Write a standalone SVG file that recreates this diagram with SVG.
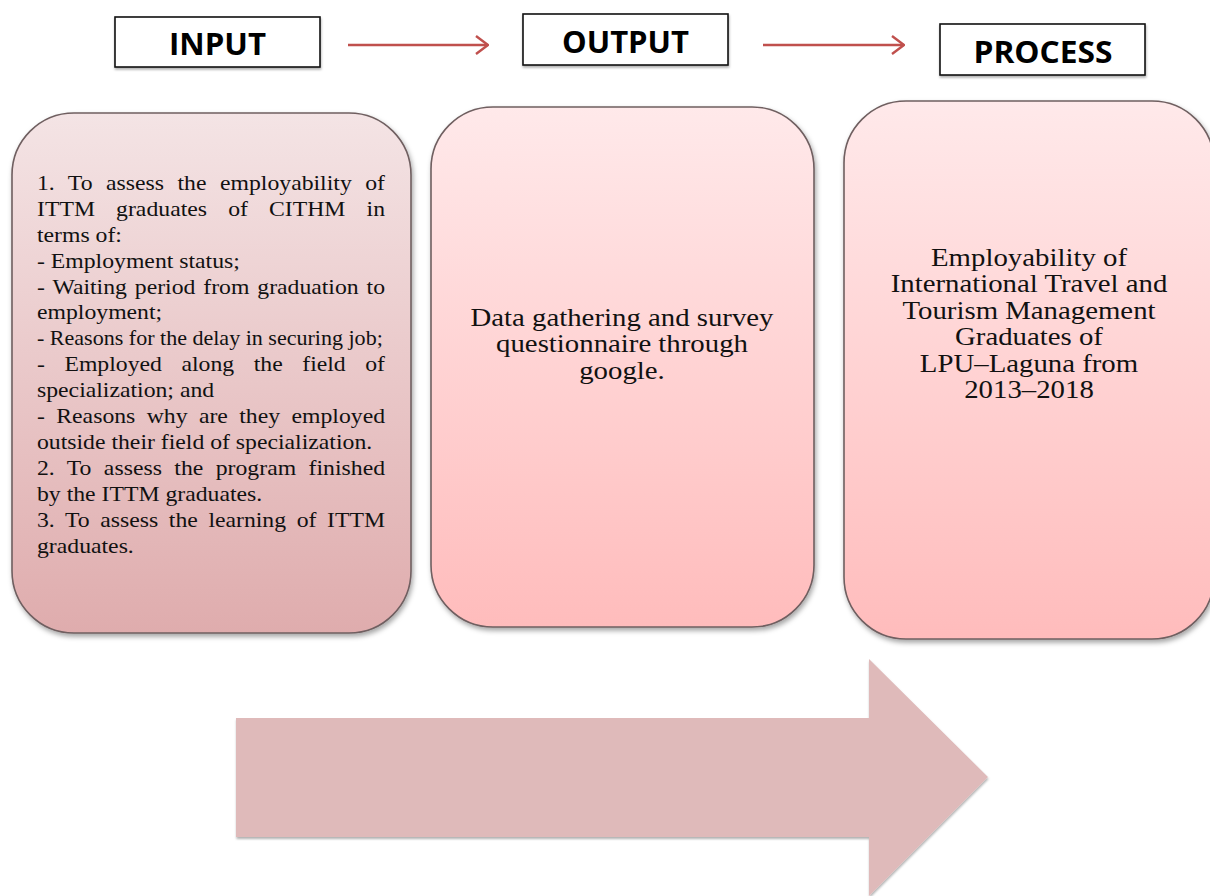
<svg xmlns="http://www.w3.org/2000/svg" width="1210" height="896" viewBox="0 0 1210 896">
  <style>
    .label { font-family: "Open Sans", "Liberation Sans", sans-serif; font-weight: 700; font-size: 31px; fill: #000; }
    .hdr { fill: #fff; stroke: #111; stroke-width: 1.6; }
    .card { stroke: #6f5f60; stroke-width: 1.6; }
    .body { font-family: "Liberation Serif", "Times New Roman", serif; fill: #111; }
    .small { font-size: 21px; }
    .big { font-size: 25.5px; }
    .link { fill: none; stroke: #c0504d; stroke-width: 2.4; }
  </style>
  <defs>
    <linearGradient id="gInput" x1="0" y1="0" x2="0" y2="1">
      <stop offset="0" stop-color="#f4e4e5"/>
      <stop offset="1" stop-color="#dfacad"/>
    </linearGradient>
    <linearGradient id="gPink" x1="0" y1="0" x2="0" y2="1">
      <stop offset="0" stop-color="#ffe9ea"/>
      <stop offset="1" stop-color="#ffbcbc"/>
    </linearGradient>
    <filter id="shadow" x="-10%" y="-10%" width="120%" height="120%">
      <feDropShadow dx="1.5" dy="3" stdDeviation="2.5" flood-color="#000" flood-opacity="0.35"/>
    </filter>
    <filter id="shadowSoft" x="-10%" y="-10%" width="120%" height="130%">
      <feDropShadow dx="0.5" dy="2" stdDeviation="1.2" flood-color="#000" flood-opacity="0.3"/>
    </filter>
    <marker id="chev" viewBox="0 0 14 20" refX="13" refY="10" markerWidth="14" markerHeight="20" markerUnits="userSpaceOnUse" orient="auto">
      <path d="M1,1 L13,10 L1,19" fill="none" stroke="#c0504d" stroke-width="2.4"/>
    </marker>
  </defs>

  <!-- heading boxes -->
  <g id="input-label">
    <rect class="hdr" x="115" y="17" width="205" height="50" filter="url(#shadowSoft)"/>
    <text class="label" x="217.5" y="55" text-anchor="middle" textLength="97" lengthAdjust="spacingAndGlyphs">INPUT</text>
  </g>
  <g id="output-label">
    <rect class="hdr" x="523" y="14" width="205" height="51" filter="url(#shadowSoft)"/>
    <text class="label" x="625.5" y="53" text-anchor="middle" textLength="127" lengthAdjust="spacingAndGlyphs">OUTPUT</text>
  </g>
  <g id="process-label">
    <rect class="hdr" x="940" y="24" width="205" height="51" filter="url(#shadowSoft)"/>
    <text class="label" x="1043" y="63" text-anchor="middle" textLength="139" lengthAdjust="spacingAndGlyphs">PROCESS</text>
  </g>

  <!-- connectors between heading boxes -->
  <g id="connectors">
    <line class="link" x1="348" y1="45" x2="488" y2="45" marker-end="url(#chev)"/>
    <line class="link" x1="763" y1="45" x2="904" y2="45" marker-end="url(#chev)"/>
  </g>

  <!-- objectives card; justified lines widen the word gaps, textLength trims the rest -->
  <g id="input-card">
    <rect class="card" x="12" y="113" width="399" height="520" rx="62" ry="62" fill="url(#gInput)" filter="url(#shadow)"/>
    <g class="body small" transform="translate(37,0) scale(1.13,1)">
      <text x="0" y="190" word-spacing="6.7" textLength="308" lengthAdjust="spacing">1. To assess the employability of</text>
      <text x="0" y="215.9" word-spacing="13.43" textLength="308" lengthAdjust="spacing">ITTM graduates of CITHM in</text>
      <text x="0" y="241.8">terms of:</text>
      <text x="0" y="267.7">- Employment status;</text>
      <text x="0" y="293.6" word-spacing="1.84" textLength="308" lengthAdjust="spacing">- Waiting period from graduation to</text>
      <text x="0" y="319.5">employment;</text>
      <text x="0" y="345.4" textLength="306" lengthAdjust="spacingAndGlyphs">- Reasons for the delay in securing job;</text>
      <text x="0" y="371.3" word-spacing="12.02" textLength="308" lengthAdjust="spacing">- Employed along the field of</text>
      <text x="0" y="397.2">specialization; and</text>
      <text x="0" y="423.1" word-spacing="4.8" textLength="308" lengthAdjust="spacing">- Reasons why are they employed</text>
      <text x="0" y="449">outside their field of specialization.</text>
      <text x="0" y="474.9" word-spacing="5.7" textLength="308" lengthAdjust="spacing">2. To assess the program finished</text>
      <text x="0" y="500.8">by the ITTM graduates.</text>
      <text x="0" y="526.7" word-spacing="4.2" textLength="308" lengthAdjust="spacing">3. To assess the learning of ITTM</text>
      <text x="0" y="552.6">graduates.</text>
    </g>
  </g>

  <!-- method card -->
  <g id="output-card">
    <rect class="card" x="431" y="107" width="383" height="520" rx="62" ry="62" fill="url(#gPink)" filter="url(#shadow)"/>
    <g class="body big" text-anchor="middle" transform="translate(622,0) scale(1.13,1)">
      <text x="0" y="326">Data gathering and survey</text>
      <text x="0" y="352.5">questionnaire through</text>
      <text x="0" y="379">google.</text>
    </g>
  </g>

  <!-- outcome card -->
  <g id="process-card">
    <rect class="card" x="844" y="101" width="370" height="538" rx="62" ry="62" fill="url(#gPink)" filter="url(#shadow)"/>
    <g class="body big" text-anchor="middle" transform="translate(1029,0) scale(1.13,1)">
      <text x="0" y="266">Employability of</text>
      <text x="0" y="292.5">International Travel and</text>
      <text x="0" y="319">Tourism Management</text>
      <text x="0" y="345.5">Graduates of</text>
      <text x="0" y="372">LPU–Laguna from</text>
      <text x="0" y="398.5">2013–2018</text>
    </g>
  </g>

  <!-- large direction arrow -->
  <g id="flow-arrow">
    <polygon points="236,718 869,718 869,659 988,777 869,896 869,837 236,837" fill="#dfbaba" filter="url(#shadowSoft)"/>
  </g>
</svg>
